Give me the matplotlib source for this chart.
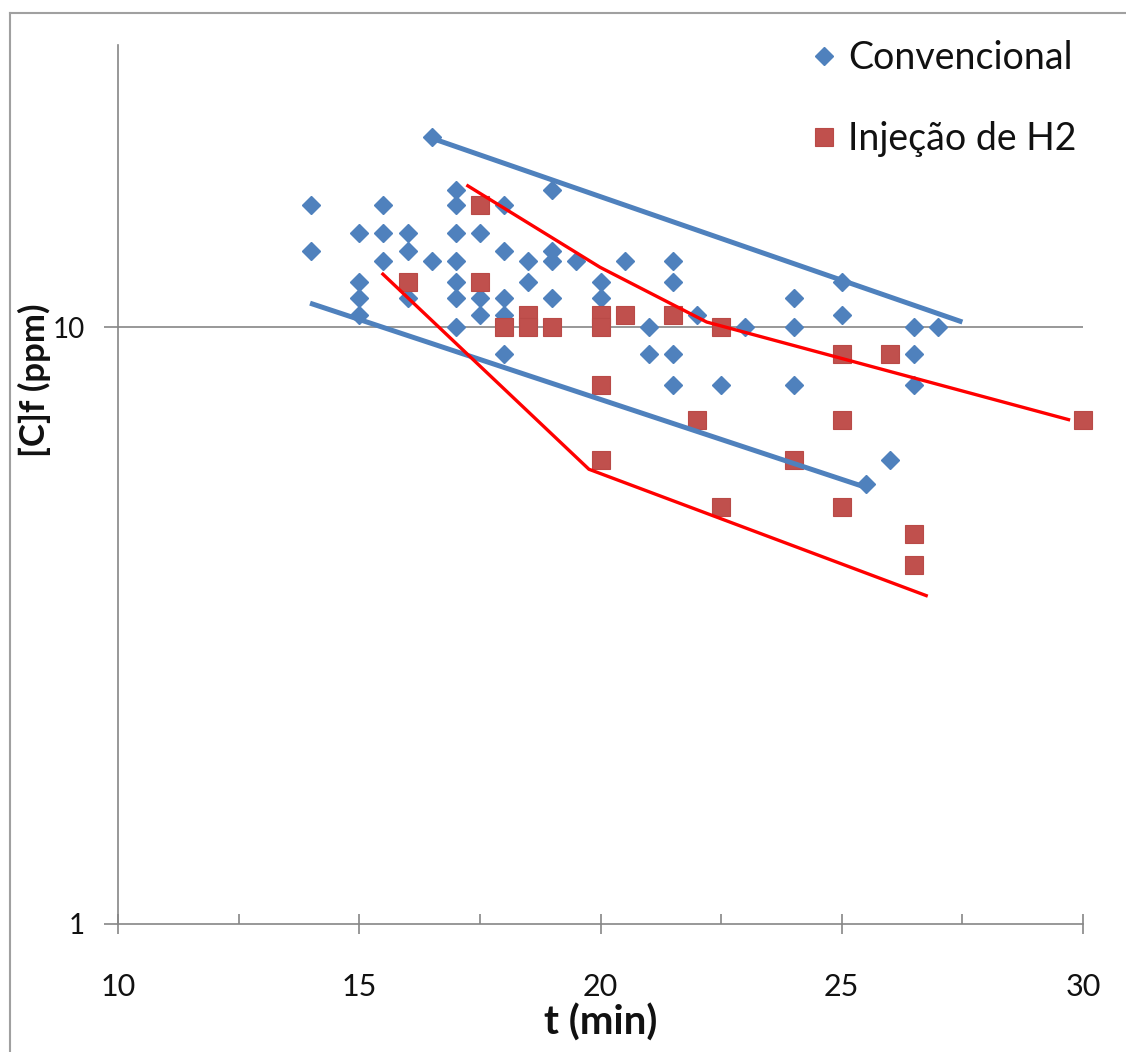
import matplotlib
matplotlib.use("Agg")
import matplotlib.pyplot as plt
from matplotlib.lines import Line2D
from matplotlib.ticker import FixedLocator, FixedFormatter, NullFormatter

# ---- data ----
conv_t = [14, 14,
          15, 15, 15, 15,
          15.5, 15.5, 15.5,
          16, 16, 16,
          16.5, 16.5,
          17, 17, 17, 17, 17, 17, 17,
          17.5, 17.5, 17.5,
          18, 18, 18, 18, 18,
          18.5, 18.5,
          19, 19, 19, 19,
          19.5,
          20, 20,
          20.5,
          21, 21,
          21.5, 21.5, 21.5, 21.5,
          22,
          22.5,
          23,
          24, 24, 24,
          25, 25,
          25.5,
          26,
          26.5, 26.5, 26.5,
          27]
conv_c = [16, 13.4,
          14.4, 11.9, 11.2, 10.5,
          16, 14.4, 12.9,
          14.4, 13.4, 11.2,
          20.8, 12.9,
          17, 16, 14.4, 12.9, 11.9, 11.2, 10,
          14.4, 11.2, 10.5,
          16, 13.4, 11.2, 10.5, 9,
          12.9, 11.9,
          17, 13.4, 12.9, 11.2,
          12.9,
          11.9, 11.2,
          12.9,
          10, 9,
          12.9, 11.9, 9, 8,
          10.5,
          8,
          10,
          11.2, 10, 8,
          11.9, 10.5,
          5.45,
          6,
          10, 9, 8,
          10]

h2_t = [16, 17.5, 17.5, 18, 18.5, 18.5, 19, 20, 20, 20, 20, 20.5, 21.5,
        22, 22.5, 22.5, 24, 25, 25, 25, 26, 26.5, 26.5, 30]
h2_c = [11.9, 16, 11.9, 10, 10.5, 10, 10, 10.5, 10, 8, 6, 10.5, 10.5,
        7, 10, 5, 6, 9, 7, 5, 9, 4.5, 4, 7]

# hand-drawn trend lines (t, ppm)
blue_up_t = [16.45, 27.5]
blue_up_c = [20.8, 10.2]
blue_lo_t = [13.98, 25.5]
blue_lo_c = [10.97, 5.39]
red_up_t = [17.25, 19.99, 22.2, 29.7]
red_up_c = [17.25, 12.6, 10.2, 7.0]
red_lo_t = [15.49, 19.76, 26.75]
red_lo_c = [12.27, 5.78, 3.55]

x_ticks = [10, 15, 20, 25, 30]
x_minor = [12.5, 17.5, 22.5, 27.5]
y_ticks = [1, 10]

BLUE = "#4F81BD"
RED_M = "#C0504D"
AXC = "#868686"
TXT = "#111111"

plt.rcParams['font.family'] = ['Lato', 'DejaVu Sans']

fig = plt.figure(figsize=(11.26, 10.52), dpi=100)
W, H = 1126, 1052
ax = fig.add_axes([118 / W, 1 - 924 / H, (1083 - 118) / W, (924 - 45) / H])

ax.set_yscale('log')
ax.set_xlim(10, 30)
ax.set_ylim(1, 29.7)

ax.plot(blue_up_t, blue_up_c, color=BLUE, lw=3.6, solid_capstyle='butt', zorder=3)
ax.plot(blue_lo_t, blue_lo_c, color=BLUE, lw=3.6, solid_capstyle='butt', zorder=3)
ax.plot(red_up_t, red_up_c, color="#FF0000", lw=2.4, zorder=3)
ax.plot(red_lo_t, red_lo_c, color="#FF0000", lw=2.4, zorder=3)

ax.plot(conv_t, conv_c, linestyle='none', marker='D', ms=9.2, color=BLUE,
        mec=BLUE, zorder=2, label='Convencional', clip_on=False)
ax.plot(h2_t, h2_c, linestyle='none', marker='s', ms=13.5, color=RED_M,
        mec="#B94A47", mew=0.8, zorder=2, label='Injeção de H2', clip_on=False)

# grid line at 10
ax.axhline(10, color=AXC, lw=1.2, zorder=1)

for s in ['top', 'right']:
    ax.spines[s].set_visible(False)
for s in ['left', 'bottom']:
    ax.spines[s].set_color(AXC)
    ax.spines[s].set_linewidth(1.2)

ax.xaxis.set_major_locator(FixedLocator(x_ticks))
ax.xaxis.set_minor_locator(FixedLocator(x_minor))
ax.xaxis.set_major_formatter(FixedFormatter([str(v) for v in x_ticks]))
ax.xaxis.set_minor_formatter(NullFormatter())
ax.yaxis.set_major_locator(FixedLocator(y_ticks))
ax.yaxis.set_minor_locator(FixedLocator([]))
ax.yaxis.set_major_formatter(FixedFormatter([str(v) for v in y_ticks]))

ax.tick_params(axis='x', which='major', direction='inout', length=14, width=1.2,
               color=AXC, labelsize=22, pad=28, labelcolor=TXT)
ax.tick_params(axis='x', which='minor', direction='in', length=7, width=1.2, color=AXC)
ax.tick_params(axis='y', which='major', direction='out', length=10, width=1.2,
               color=AXC, labelsize=20, pad=14, labelcolor=TXT)

ax.set_xlabel('t (min)', fontsize=29, fontweight='bold', labelpad=2, color=TXT)
ax.set_ylabel('[C]f (ppm)', fontsize=25, fontweight='bold', color=TXT)
ax.yaxis.set_label_coords(-0.069, (924 - 380) / (924 - 45))

leg = ax.legend(loc='upper left', bbox_to_anchor=(790 / W, 1 - 25 / H),
                bbox_transform=fig.transFigure, frameon=False, fontsize=27,
                labelspacing=1.2, handletextpad=0.15, handlelength=1.0,
                borderaxespad=0)
for t in leg.get_texts():
    t.set_color(TXT)

# outer chart frame
fig.add_artist(Line2D([10 / W, 10 / W], [0, 1 - 13 / H], transform=fig.transFigure,
                      color='#A0A0A0', lw=1.5))
fig.add_artist(Line2D([10 / W, 1], [1 - 13 / H, 1 - 13 / H], transform=fig.transFigure,
                      color='#A0A0A0', lw=1.5))

fig.savefig('out.png', dpi=100)
